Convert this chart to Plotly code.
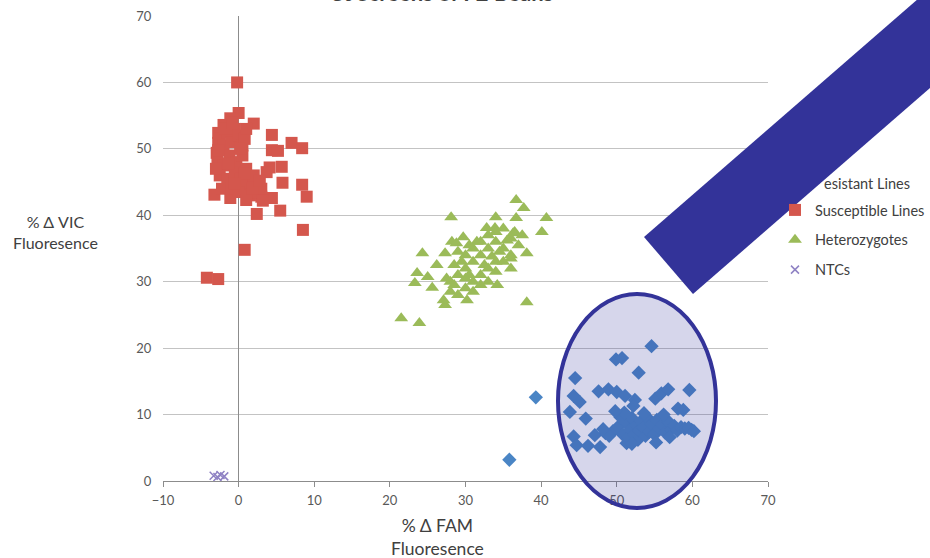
import plotly.graph_objects as go

# ---------------- data ----------------
susceptible_x = [-0.2, 0.0, -1.1, 2.0, -2.0, 4.4, 7.0, 8.4, 4.4, 5.2, -2.7, -2.7, -2.9, 4.1, 5.7, 3.7,
                 5.8, 8.4, 9.0, -3.2, -1.1, 2.4, 5.5, 8.5, 0.8, -4.2, -2.7, 4.4, 3.0, 1.8, 0.8,
                 -2.5, -2.0, -1.5, -1.0, -0.5, 0.0, 0.5, -2.8, -2.0, -1.2, -0.3, 0.5, 1.0, -2.5,
                 -1.5, -0.5, 0.3, 1.2, 2.0, -2.2, -1.0, 0.0, 1.5, 2.5, 3.0, -1.8, -0.8, 0.8, 1.0,
                 -3.0, 3.2, 1.0, 2.0, -2.7, 0.2, -1.3, 0.8, -0.5, 1.8, 2.8]
susceptible_y = [60.0, 55.4, 54.6, 53.8, 53.6, 52.1, 50.9, 50.1, 49.8, 49.7, 52.4, 50.9, 49.4, 47.2, 47.3, 46.5,
                 44.9, 44.6, 42.8, 43.1, 42.6, 40.2, 40.7, 37.8, 34.8, 30.6, 30.4, 42.6, 42.8, 43.5, 44.3,
                 51.5, 50.5, 52.5, 51.0, 53.0, 52.0, 50.5, 48.5, 47.5, 49.0, 48.0, 49.0, 47.0, 46.0,
                 45.5, 46.5, 45.5, 45.0, 44.5, 44.0, 44.0, 43.5, 43.0, 43.5, 44.0, 53.0, 54.0, 51.5, 53.0,
                 47.0, 42.2, 42.3, 46.0, 49.8, 50.0, 47.8, 46.3, 44.8, 44.0, 45.2]

hetero_x = [36.7, 37.7, 28.1, 34.0, 36.7, 40.7, 40.1, 29.7, 28.2, 28.8, 32.8, 33.9, 36.3, 24.3, 27.3, 38.1,
            26.2, 23.6, 25.0, 23.3, 25.6, 34.2, 38.1, 27.3, 27.1, 30.2, 21.5, 23.9,
            28.0, 29.0, 30.0, 31.0, 32.0, 33.0, 34.0, 35.0, 36.0, 34.0, 33.0, 32.0, 31.0, 30.0, 29.0,
            28.0, 30.0, 31.0, 32.0, 33.0, 34.0, 35.0, 36.0, 37.0, 35.0, 36.0, 33.0, 29.5, 28.5, 30.5,
            32.5, 34.5, 31.5, 36.5, 37.5, 29.0, 27.5, 33.5, 31.0, 35.5, 30.0, 32.0, 34.0, 36.0, 28.5, 30.5]
hetero_y = [42.3, 41.1, 39.7, 39.7, 39.6, 39.6, 37.5, 36.7, 36.0, 35.8, 38.1, 38.1, 37.3, 34.3, 34.3, 34.3,
            32.5, 31.3, 30.7, 29.8, 29.1, 29.5, 26.9, 26.5, 27.2, 27.2, 24.5, 23.8,
            30.0, 31.0, 32.0, 33.0, 34.0, 35.0, 36.0, 35.0, 34.0, 33.0, 32.0, 31.0, 30.0, 29.0, 28.0,
            28.5, 34.0, 35.0, 36.0, 37.0, 37.5, 38.0, 36.5, 35.5, 33.0, 32.0, 30.0, 33.0, 32.5, 31.0,
            32.5, 34.5, 36.0, 37.5, 37.0, 34.5, 30.5, 33.8, 28.5, 36.2, 30.5, 29.5, 31.5, 33.5, 29.5, 35.5]

resistant_x = [35.8, 39.3, 54.6, 49.9, 50.7, 52.9, 44.5, 47.6, 48.9, 50.0, 51.1, 44.3, 45.1, 52.4, 55.1, 55.9,
               56.8, 59.6, 43.8, 45.9, 58.1, 58.8, 44.3, 44.7, 46.2, 47.8, 47.1, 48.5, 59.9, 51.3, 52.2,
               49.5, 50.2, 50.8, 51.2, 51.5, 51.8, 52.0, 52.3, 52.6, 52.8, 53.0, 53.2, 53.5, 53.8, 54.0,
               54.3, 54.6, 55.0, 55.3, 55.6, 56.0, 56.4, 56.8, 57.2, 57.6, 58.0, 58.5, 59.0, 59.5, 60.2,
               49.0, 48.2, 50.5, 53.6, 55.2, 52.0, 51.0, 56.2, 49.8, 57.0]
resistant_y = [3.2, 12.6, 20.3, 18.3, 18.5, 16.3, 15.5, 13.5, 13.8, 13.4, 12.8, 12.8, 11.9, 12.2, 12.4, 13.2,
               13.8, 13.7, 10.4, 9.4, 10.9, 10.7, 6.7, 5.4, 5.3, 5.1, 6.9, 7.2, 7.7, 5.7, 11.3,
               7.5, 8.2, 7.0, 8.8, 6.5, 7.8, 9.5, 7.0, 8.4, 6.2, 7.6, 9.0, 8.0, 6.8, 9.6,
               7.4, 8.6, 7.0, 9.2, 7.9, 8.5, 7.3, 9.0, 7.8, 8.3, 7.6, 8.1, 7.9, 8.0, 7.5,
               6.8, 7.8, 9.6, 10.2, 5.8, 5.6, 10.3, 10.0, 10.5, 6.6]

ntc_x = [-3.3, -2.8, -2.4, -1.9]
ntc_y = [0.8, 0.6, 0.9, 0.7]

x_ticks = [-10, 0, 10, 20, 30, 40, 50, 60, 70]
y_ticks = [0, 10, 20, 30, 40, 50, 60, 70]

# ---------------- layout geometry (screen pixels) ----------------
W, H = 930, 558                          # figure size (page margin removed below)
L, R, T, B = 163, 768, 16, 481           # plot area edges
PW, PH = R - L, B - T


def px(xp):
    return (xp - L) / PW


def py(yp):
    return (B - yp) / PH


FONT = "Lato, 'Open Sans', sans-serif"
TXT = "#404040"

fig = go.Figure()
fig.add_trace(go.Scatter(x=resistant_x, y=resistant_y, mode="markers", name="Resistant Lines",
                         showlegend=False,
                         marker=dict(symbol="diamond", size=11, color="#4a85c5")))
fig.add_trace(go.Scatter(x=susceptible_x, y=susceptible_y, mode="markers", name="Susceptible Lines",
                         legendgroup="s",
                         marker=dict(symbol="square", size=12, color="#d4574d")))
fig.add_trace(go.Scatter(x=hetero_x, y=hetero_y, mode="markers", name="Heterozygotes",
                         legendgroup="h",
                         marker=dict(symbol="triangle-up", size=12, color="#9bbb59")))
fig.add_trace(go.Scatter(x=ntc_x, y=ntc_y, mode="markers", name="NTCs", legendgroup="n",
                         marker=dict(symbol="x-thin", size=8, color="#8f82c4",
                                     line=dict(width=1.5, color="#8f82c4"))))

# band (thick diagonal bar)
A = (644, 237)
Bp = (693, 294)
d = (0.755, -0.656)
C = (Bp[0] + 500 * d[0], Bp[1] + 500 * d[1])
D = (A[0] + 500 * d[0], A[1] + 500 * d[1])
band_path = "M {} {} L {} {} L {} {} L {} {} Z".format(
    px(A[0]), py(A[1]), px(Bp[0]), py(Bp[1]), px(C[0]), py(C[1]), px(D[0]), py(D[1]))

shapes = [
    dict(type="circle", xref="paper", yref="paper", layer="above",
         x0=px(558), x1=px(716), y0=py(508), y1=py(294),
         fillcolor="rgba(51,51,153,0.2)", line=dict(color="#333399", width=4)),
    dict(type="path", xref="paper", yref="paper", layer="above", path=band_path,
         fillcolor="#333399", line=dict(width=0)),
]

annotations = [
    dict(text="Ct Screens of F2 Beans", xref="paper", yref="paper", x=px(441), y=py(-8),
         xanchor="center", yanchor="middle", showarrow=False,
         font=dict(family=FONT, size=22, color=TXT, weight="bold")),
    dict(text="% Δ VIC<br>Fluoresence", xref="paper", yref="paper", x=px(55), y=py(232),
         xanchor="center", yanchor="middle", showarrow=False, align="center",
         font=dict(family=FONT, size=16, color=TXT)),
    dict(text="% Δ FAM<br>Fluoresence", xref="paper", yref="paper", x=px(437), y=py(537),
         xanchor="center", yanchor="middle", showarrow=False, align="center",
         font=dict(family=FONT, size=17.5, color=TXT)),
    dict(text="esistant Lines", xref="paper", yref="paper", x=px(822), y=py(183),
         xanchor="left", yanchor="middle", showarrow=False,
         font=dict(family=FONT, size=14.5, color=TXT)),
]

fig.update_layout(
    width=W, height=H,
    margin=dict(l=L, r=W - R, t=T, b=H - B, autoexpand=False),
    paper_bgcolor="white", plot_bgcolor="white",
    showlegend=True,
    legend=dict(x=px(775), y=py(194), xanchor="left", yanchor="top",
                bgcolor="rgba(0,0,0,0)", tracegroupgap=8, traceorder="grouped",
                font=dict(family=FONT, size=14.5, color=TXT)),
    xaxis=dict(range=[-10, 70], tickvals=x_ticks, showgrid=False,
               zeroline=True, zerolinecolor="#8c8c8c", zerolinewidth=1,
               showline=True, linecolor="#8c8c8c", linewidth=1,
               ticks="outside", ticklen=5, tickcolor="#8c8c8c", ticklabelstandoff=2,
               ticklabeloverflow="allow",
               tickfont=dict(family=FONT, size=13, color="#595959"),
               fixedrange=True),
    yaxis=dict(range=[0, 70], tickvals=y_ticks, showgrid=True, gridcolor="#c3c3c3", gridwidth=1,
               zeroline=False, showline=False,
               ticks="outside", ticklen=8, tickcolor="rgba(0,0,0,0)",
               ticklabeloverflow="allow",
               tickfont=dict(family=FONT, size=13, color="#595959"),
               fixedrange=True),
    shapes=shapes,
    annotations=annotations,
)

fig.write_html("out.html", config={"displayModeBar": False},
               post_script="document.body.style.margin='0px';document.body.style.overflow='hidden';")
